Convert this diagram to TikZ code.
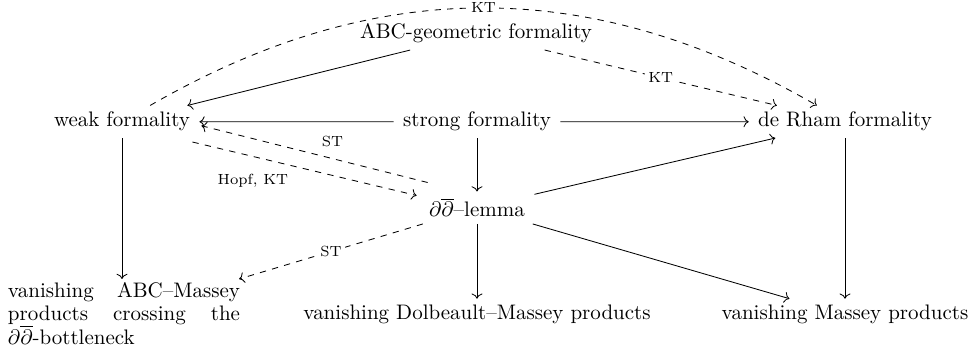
\documentclass[tikz,border=0pt]{standalone}
\usetikzlibrary{arrows.meta,calc}
\begin{document}
\begin{tikzpicture}[x=0.4762pt,y=0.4762pt,
  cell/.style={inner xsep=1ex, inner ysep=3pt, anchor=base},
  cd/.style={-{Computer Modern Rightarrow}},
  lbl/.style={font=\scriptsize},
  desc/.style={font=\scriptsize, fill=white, inner sep=1.5pt}]
\useasboundingbox (0,0) rectangle (972,-356);
\node[cell] (abc) at (476,-39) {ABC-geometric formality};
\node[cell] (weak) at (122,-127) {weak formality};
\node[cell] (strong) at (477,-127) {strong formality};
\node[cell] (drham) at (845,-127) {de Rham formality};
\node[cell] (lemma) at (477,-217) {$\partial\overline{\partial}$--lemma};
\node[cell] (dolb) at (477,-320) {vanishing Dolbeault--Massey products};
\node[cell] (massey) at (845,-320) {vanishing Massey products};
\node[inner xsep=1ex, inner ysep=1.6pt, anchor=north] (abcm) at (124,-279)
  {\parbox[t]{110.5pt}{\baselineskip=11pt\lineskiplimit=-10pt vanishing ABC--Massey\linebreak products crossing the\linebreak $\partial\overline{\partial}$-bottleneck}};
\draw[cd] (abc) -- (weak);
\draw[cd,dashed] (abc) -- node[desc]{KT} (drham);
\draw[cd,dashed] (weak) to[bend left=30] node[desc]{KT} (drham);
\draw[cd] (strong) -- (weak);
\draw[cd] (strong) -- (drham);
\draw[cd] (strong) -- (lemma);
\draw[cd,dashed] ($(lemma.north west)+(8,9)$) -- node[lbl,anchor=south west]{ST} ($(weak.east)+(2,-4)$);
\draw[cd,dashed] ($(weak.south east)+(-7,-4)$) -- node[lbl,anchor=north east,pos=0.46]{Hopf, KT} ($(lemma.north west)+(-3,-4)$);
\draw[cd] (lemma) -- (drham);
\draw[cd] (lemma) -- (dolb);
\draw[cd] (lemma) -- (massey);
\draw[cd,dashed] (lemma) -- node[desc]{ST} (abcm);
\draw[cd] (weak) -- (weak |- abcm.north);
\draw[cd] (drham) -- (massey);
\end{tikzpicture}
\end{document}
